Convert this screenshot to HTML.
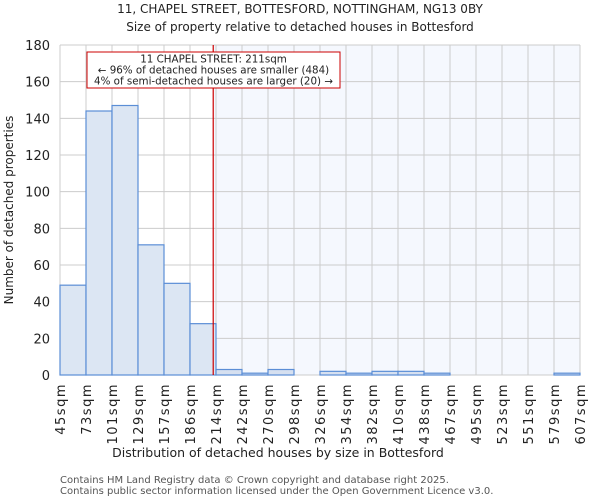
<!DOCTYPE html>
<html><head><meta charset="utf-8"><style>
body{margin:0;background:#fff;font-family:"DejaVu Sans","Liberation Sans",sans-serif}
</style></head><body>
<svg id="c" width="600" height="500" xmlns="http://www.w3.org/2000/svg" font-family="DejaVu Sans, Liberation Sans, sans-serif">
<text x="300" y="13" text-anchor="middle" font-size="12" fill="#222">11, CHAPEL STREET, BOTTESFORD, NOTTINGHAM, NG13 0BY</text>
<text x="300" y="31" text-anchor="middle" font-size="12" fill="#222">Size of property relative to detached houses in Bottesford</text>
<g id="plot"></g>
<text x="278" y="457" text-anchor="middle" font-size="12.5" fill="#222">Distribution of detached houses by size in Bottesford</text>
<text transform="translate(13,210) rotate(-90)" text-anchor="middle" font-size="12" fill="#222">Number of detached properties</text>
<text x="60" y="483" font-size="10" fill="#555">Contains HM Land Registry data © Crown copyright and database right 2025.</text>
<text x="60" y="494" font-size="10" fill="#555">Contains public sector information licensed under the Open Government Licence v3.0.</text>
</svg>
<script>
const binLabels=["45sqm","73sqm","101sqm","129sqm","157sqm","186sqm","214sqm","242sqm","270sqm","298sqm","326sqm","354sqm","382sqm","410sqm","438sqm","467sqm","495sqm","523sqm","551sqm","579sqm","607sqm"];
const binEdges=[45,73,101,129,157,186,214,242,270,298,326,354,382,410,438,467,495,523,551,579,607];
const counts=[49,144,147,71,50,28,3,1,3,0,2,1,2,2,1,0,0,0,0,1];
const yTicks=[0,20,40,60,80,100,120,140,160,180];
const propertySize=211;
const NS="http://www.w3.org/2000/svg";
const g=document.getElementById('plot');
const L=60,R=580,T=45,B=375,yMax=180;
const n=binEdges.length-1;
const xi=i=>L+(R-L)*i/n;
function xv(v){for(let i=0;i<n;i++){if(v<=binEdges[i+1])return xi(i)+(xi(i+1)-xi(i))*(v-binEdges[i])/(binEdges[i+1]-binEdges[i]);}return R;}
const y=v=>B-(B-T)*v/yMax;
function mk(t,a){const e=document.createElementNS(NS,t);for(const k in a)e.setAttribute(k,a[k]);g.appendChild(e);return e;}
const px=xv(propertySize);
let e=mk('rect',{x:px,y:T,width:R-px,height:B-T,fill:'#f5f8fe'});


yTicks.forEach(t=>{let l=mk('line',{x1:L,x2:R,y1:y(t),y2:y(t),stroke:'#ccc','stroke-width':1});


let tx=mk('text',{x:L-10,y:y(t)+5,'text-anchor':'end','font-size':13,fill:'#222'});tx.textContent=t;

});
for(let i=0;i<=n;i++){let l=mk('line',{x1:xi(i),x2:xi(i),y1:T,y2:B,stroke:'#ccc','stroke-width':1});


let tx=mk('text',{transform:`translate(${xi(i)+5},${B+8}) rotate(-90)`,'text-anchor':'end','font-size':13,'letter-spacing':1.5,fill:'#222'});tx.textContent=binLabels[i];

}
counts.forEach((c,i)=>{if(c<=0)return;const left=binEdges[i+1]<=propertySize+3;
let r=mk('rect',{x:xi(i),y:y(c),width:xi(i+1)-xi(i),height:B-y(c),fill:left?'#dce6f3':'#d6e0f0',stroke:'#5b8ed6','stroke-width':1.2});

});
e=mk('line',{x1:px,x2:px,y1:T,y2:B,stroke:'#cc0000','stroke-width':1.2});


e=mk('rect',{x:87,y:52,width:253,height:36,fill:'#fff',stroke:'#cc0000','stroke-width':1});


["11 CHAPEL STREET: 211sqm","← 96% of detached houses are smaller (484)","4% of semi-detached houses are larger (20) →"].forEach((s,k)=>{let t=mk('text',{x:213.5,y:62.5+k*11,'text-anchor':'middle','font-size':10.3,fill:'#222'});t.textContent=s;

});
</script>
</body></html>
